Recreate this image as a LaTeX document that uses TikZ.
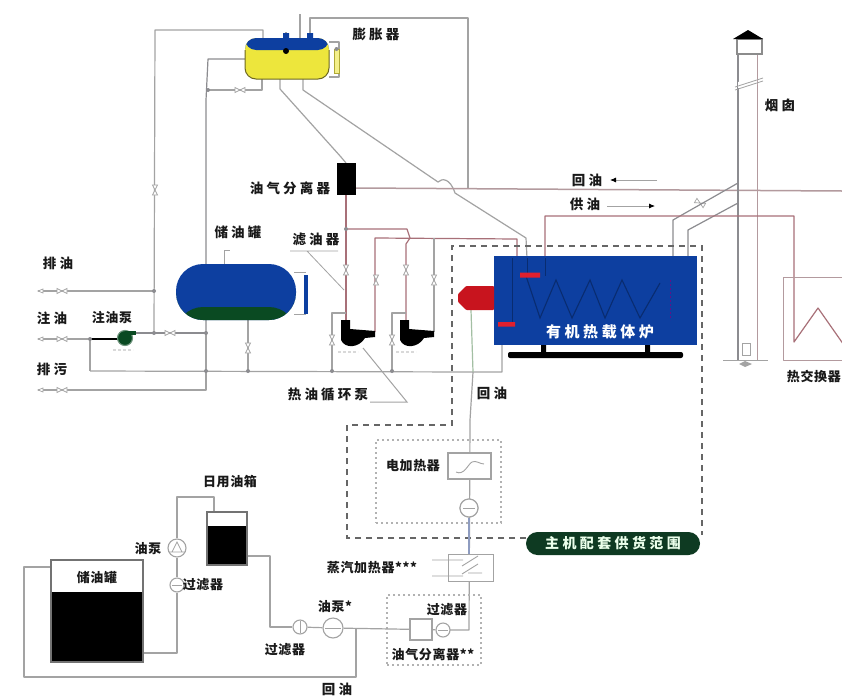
\documentclass[tikz,border=0pt]{standalone}
\usepackage{fontspec}
\setmainfont{Noto Sans CJK SC}
\newfontfamily\cjkw[LetterSpace=24]{Noto Sans CJK SC}
\newfontfamily\cjkn[LetterSpace=5]{Noto Sans CJK SC}
\usetikzlibrary{arrows.meta,calc}
\definecolor{tankblue}{HTML}{0D3FA0}
\definecolor{tankgreen}{HTML}{0A4A22}
\definecolor{tankyellow}{HTML}{EDE63C}
\definecolor{pipegray}{HTML}{A3A3A3}
\definecolor{pipedark}{HTML}{8C8C90}
\definecolor{piperose}{HTML}{B39A9E}
\definecolor{pipered}{HTML}{A87078}
\definecolor{badge}{HTML}{0E3A22}
\definecolor{burner}{HTML}{C8141E}
\definecolor{barred}{HTML}{E0202E}
\definecolor{pipegreen}{HTML}{A3BFA3}
\definecolor{pipeblue}{HTML}{8E9CC0}
\tikzset{
  pipe/.style={draw=pipegray,line width=1.2pt,line join=round},
  pipedk/.style={draw=pipedark,line width=1.2pt,line join=round},
  pipero/.style={draw=piperose,line width=1.5pt,line join=round},
  pipere/.style={draw=pipered,line width=1.2pt,line join=round},
  lw/.style={font=\cjkw\bfseries\fontsize{13.5}{15}\selectfont,text=black!90,inner sep=0pt},
  ln/.style={font=\cjkn\bfseries\fontsize{13}{15}\selectfont,text=black!90,inner sep=0pt},
  jdot/.style={circle,fill=pipedark,inner sep=0pt,minimum size=4pt},
  box/.style={draw=pipegray,line width=1.1pt,fill=white,inner sep=0pt},
  ring/.style={circle,draw=pipegray,line width=1.1pt,fill=white,inner sep=0pt},
  bigdash/.style={draw=black!60,line width=1.4pt,dash pattern=on 6pt off 5pt},
  smalldot/.style={draw=black!30,line width=1.2pt,dash pattern=on 2pt off 3pt},
  vlv/.pic={\draw[draw=pipegray,fill=white,line width=.7pt] (-5,-2.5)--(0,0)--(-5,2.5)--cycle (5,-2.5)--(0,0)--(5,2.5)--cycle;},
  hotpump/.pic={\fill[black] (-4,-14)--(5,-14)--(5,-5)--(30,-3)--(30,3)--(20,4)
     .. controls (14,14) and (0,15) .. (-4,6)--cycle;},
}
\begin{document}
\begin{tikzpicture}[x=1pt,y=-1pt]
\useasboundingbox (0,0) rectangle (842,696);
\clip (0,0) rectangle (842,696);
\fill[white] (0,0) rectangle (842,696);

% ---------- junctions and free ends
\coordinate (jPumpA) at (154,333);
\coordinate (jDrainOil) at (154,291);
\coordinate (jTankB) at (206,333);
\coordinate (jRetA) at (206,371);
\coordinate (jTankBot) at (248,371);
\coordinate (jP1by) at (332,371);
\coordinate (jP2by) at (392,371);
\coordinate (jInj) at (90,339);
\coordinate (jRetLeft) at (90,371);
\coordinate (jExp) at (208,90);
\coordinate (jRed) at (468,188);
\coordinate (jSep) at (346,229);
\coordinate (jFurn) at (473,372);
\coordinate (endDrainOil) at (38,291);
\coordinate (endInj) at (38,339);
\coordinate (endDirt) at (38,390);
\coordinate (endRedR) at (842,191);
\coordinate (p1in) at (346,320);
\coordinate (p1out) at (375,332);
\coordinate (p2in) at (406,320);
\coordinate (p2out) at (434,332);

% ---------- expansion tank pipes (behind tanks)
\draw[pipe] (263,38) -- (263,30) -- (155,30) -- (jPumpA);
\draw[pipedk] (245,59) -- (208,59) -- (206,100) -- (jTankB);
\draw[pipe] (jTankB) -- (206,390) -- (endDirt);
\draw[pipe] (jDrainOil) -- (endDrainOil);
\draw[pipe] (jExp) -- (262,90) -- (262,79);
\draw[pipe] (280,79) -- (280,89) -- (341,157) -- (346,163);
\draw[pipe] (303,79) -- (303,90) -- (438,182) .. controls (442,178) and (450,178) .. (455,193) -- (526,238) -- (527,258);
\draw[pipe] (310,38) -- (310,18) -- (468,18) -- (jRed);
\draw[pipe] (300,38) -- (300,14);
\draw[pipe] (286,38) -- (286,32);
\draw[pipe] (329,42) -- (339,42) -- (339,77) -- (329,77);

% ---------- rose main return line and separators
\draw[pipero] (356,188) -- (endRedR);
\draw[pipere] (346,195) -- (p1in);
\draw[pipere] (jSep) -- (407,229) -- (410,238) -- (406,244) -- (p2in);
\draw[pipere] (p1out) -- (375,238) -- (517,239) -- (517,258);
\draw[pipe] (p2out) -- (434,238);
\draw[pipe] (332,371) -- (332,313) -- (346,313);
\draw[pipe] (392,371) -- (392,313) -- (406,313);

% ---------- left lines
\draw[pipe] (jRetLeft) -- (jFurn) -- (502,372) -- (502,345);
\draw[pipe] (jInj) -- (jRetLeft);
\draw[pipe] (endInj) -- (jInj);
\draw[line width=1.6pt,black] (jInj) -- (120,339);
\draw[pipedk] (133,333) -- (jPumpA) -- (jTankB);
\draw[pipe] (jTankBot) -- (248,320);

% small valves
\foreach \px/\py/\ang in {155/190/90,62/291/0,62/339/0,62/390/0,170/333/0,248/348/90,332/340/90,392/340/90,
  376/280/90,434/280/90,346/270/90,406/270/90,240/90/0,700/203/-30}
  \pic[rotate=\ang] at (\px,\py) {vlv};
\foreach \px/\py in {40/291,40/339,40/390}
  \draw[pipegray,fill=white,line width=.7pt] (\px-2,\py) -- (\px+3,\py-2) -- (\px+3,\py+2) -- cycle;

% ---------- chimney and flue
\draw[pipedk] (738,54) -- (738,360);
\draw[pipero,line width=1pt] (757,54) -- (757,360);
\draw[pipegray,line width=1pt] (723,360) -- (768,360);
\fill[white] (738,82) -- (757,80) -- (757,85) -- (738,88) -- cycle;
\draw[pipegray,line width=.8pt] (735,87) -- (763,78) (735,90) -- (763,81);
\node[box,line width=.8pt,minimum width=8pt,minimum height=12pt] (clean) at (746,349) {};
\fill[pipegray] (739,364) -- (745,361) -- (752,364) -- (745,367) -- cycle;
\node[box,draw=black!45,minimum width=25pt,minimum height=15pt] (chimcap) at (749.5,46.5) {};
\fill[black] (733,39) -- (748,30) -- (763,39) -- cycle;
\draw[pipedk] (673,257) -- (673,220) -- (738,183);
\draw[pipedk] (688,257) -- (688,230) -- (738,203);

% ---------- supply line to heat exchanger
\draw[pipere] (545,258) -- (545,216) -- (794,216) -- (794,342) -- (818,308) -- (846,348);
\draw[pipero,line width=1pt] (842,277) -- (783,277) -- (783,360) -- (842,360);

% ---------- expansion tank
\node[fill=tankyellow,rounded corners=11pt,minimum width=84pt,minimum height=41pt,inner sep=0pt,
  path picture={\fill[tankblue] (path picture bounding box.north west) rectangle ([yshift=-12pt]path picture bounding box.north east);}] (exptank) at (287,58.5) {};
\draw[olive!70!black,line width=1pt,rounded corners=11pt] (245,50) -- (245,79) -- (329,79) -- (329,50);
\fill[tankblue] (283,33) rectangle (289,40) (307,33) rectangle (313,40);
\fill[black] (286,51) circle (3);
\node[draw=olive!70,fill=tankyellow!60,inner sep=0pt,minimum width=5pt,minimum height=24pt] (gauge) at (336.5,61) {};
\fill[pipedark] (336.5,49) circle (2);

% ---------- separator
\node[fill=black,inner sep=0pt,minimum width=19pt,minimum height=32pt] (oilsep) at (346.5,179) {};

% ---------- storage tank
\node[fill=tankblue,rounded corners=27pt,minimum width=120pt,minimum height=56pt,inner sep=0pt,
  path picture={\fill[tankgreen] ([yshift=13pt]path picture bounding box.south west) rectangle (path picture bounding box.south east);}] (tank) at (236,292) {};
\draw[pipegray,line width=.8pt] (224,264) -- (224,250) -- (230,250);
\draw[pipegray,line width=.8pt] (294,272) -- (306,272) (294,314) -- (306,314);
\fill[tankblue] (303.5,275) rectangle (308,314);

% ---------- pumps
\node[ring,draw=tankgreen!60,fill=tankgreen,minimum size=15pt] (injpump) at (125,338) {};
\fill[tankgreen] (125,331) rectangle (136,335);
\pic at (345,334) {hotpump};
\pic at (404,334) {hotpump};
\foreach \px/\py in {113/350,338/352,396/352}
  \draw[black!15,line width=2pt,dash pattern=on 3pt off 2pt] (\px,\py) -- (\px+20,\py);

% ---------- dots
\foreach \n/\px/\py in {d1/154/291,d2/154/333,d3/206/333,d4/206/371,d5/248/371,d6/332/371,d7/392/371,d8/90/339,d9/208/90,d10/346/229}
  \node[jdot] (\n) at (\px,\py) {};

% ---------- leaders
\draw[pipegray,line width=.8pt] (290,251) -- (338,251) (307,251) -- (344,290);
\draw[pipegray,line width=1pt] (370,402) -- (407,402) -- (363,348);

% ---------- furnace
\draw[draw=pipegreen,line width=1.2pt] (471,310) -- (jFurn);
\draw[pipe] (jFurn) -- (470,420);
\node[fill=tankblue,inner sep=0pt,minimum width=203pt,minimum height=89pt] (furnace) at (595.5,300.5) {};
\draw[black!30!tankblue,line width=1pt] (512,258) -- (512,325) (527,258) -- (527,276) (545,258) -- (545,276);
\draw[black!30!tankblue,line width=1.1pt] (526,276) -- (540,318) -- (556,280) -- (572,318) -- (590,280) -- (605,318) -- (622,280) -- (640,318) -- (660,283);
\draw[violet!70!tankblue,line width=.8pt,dash pattern=on 2pt off 2pt] (670,280) -- (670,320) ;
\fill[barred] (520,272.5) rectangle (540,277.5) (498,322) rectangle (515,326.5);
\node[font=\cjkw\bfseries\fontsize{15}{17}\selectfont,text=white,inner sep=0pt] (furnlab) at (600,332) {有机热载体炉};
\fill[black,rounded corners=2pt] (508,352) rectangle (683,358);
\fill[black] (541,345) rectangle (546,353) (645,345) rectangle (650,353);
\fill[burner,rounded corners=1pt] (494,286) -- (466,286) -- (458,294) -- (458,302) -- (466,310) -- (494,310) -- cycle;

% ---------- scope box
\draw[bigdash] (526,538) -- (347,538) -- (347,425) -- (452,425) -- (452,246) -- (702,246) -- (702,535);

% ---------- auxiliary heating train
\draw[pipe] (470,420) -- (469,630) -- (450,630);
\node[smalldot,minimum width=125pt,minimum height=83pt,inner sep=0pt] (elbox) at (438.5,481.5) {};
\node[box,minimum width=43pt,minimum height=26pt] (elheat) at (469.5,466) {};
\draw[pipegray,line width=.9pt] (456,472) .. controls (464,476) and (468,464) .. (472,462) .. controls (476,460) and (480,464) .. (484,464);
\node[ring,minimum size=18pt] (elpump) at (469,508) {};
\draw[pipegray,line width=.7pt] (463,508) -- (475,508);
\draw[draw=pipeblue,line width=1.2pt] (elpump) -- ($(elpump)+(0,46)$);
\node[ring,minimum size=18pt] at (elpump) {};
\draw[pipegray,line width=.7pt] (463,508) -- (475,508);
\node[box,line width=.9pt,minimum width=45pt,minimum height=27pt] (stheat) at (470.5,567.5) {};
\draw[pipegray,line width=.9pt] (432,560) -- (463,560) (432,576) -- (463,576) (462,566) -- (478,556) (462,574) -- (478,564) (468,573) -- (482,573);
\node[smalldot,minimum width=94pt,minimum height=70pt,inner sep=0pt] (sepbox) at (434,630) {};
\node[box,minimum width=22pt,minimum height=21pt] (gassep) at (421,629.5) {};
\node[ring,minimum size=14pt] (filtC) at (443,630) {};
\draw[pipegray,line width=.7pt] (438,630) -- (448,630);
\node[ring,minimum size=20pt] (pumpStar) at (333,628) {};
\node[ring,minimum size=14pt] (filtB) at (300,627) {};
\draw[pipegray,line width=.7pt] (300,621) -- (300,633);
\draw[pipegray,line width=.7pt] (325,628) -- (341,628);
\coordinate (jStar) at (356,628);
\coordinate (retCorner) at (24,677);
\draw[pipe] (gassep) -- (pumpStar);
\draw[pipe] (pumpStar) -- (filtB);
\draw[pipe] (filtC) -- (gassep);

% ---------- tanks bottom left
\node[draw=black!55,line width=1.2pt,fill=white,inner sep=0pt,minimum width=92pt,minimum height=102pt,
  path picture={\fill[black] ([yshift=70pt]path picture bounding box.south west) rectangle (path picture bounding box.south east);}] (mainT) at (97,611) {};
\node[draw=black!55,line width=1.2pt,fill=white,inner sep=0pt,minimum width=40pt,minimum height=53pt,
  path picture={\fill[black] ([yshift=39pt]path picture bounding box.south west) rectangle (path picture bounding box.south east);}] (dayT) at (227,538.5) {};
\node[ring,minimum size=18pt] (pumpL) at (177,548) {};
\draw[pipegray,line width=.7pt] (169,552) -- (185,552) (172,552) -- (177,542) -- (182,552);
\node[ring,minimum size=14pt] (filtL) at (177,585) {};
\draw[pipegray,line width=.7pt] (172,585) -- (182,585);
\draw[pipe] (filtB) -- (270,627) -- (270,556) -- (dayT.east |- 0,556);
\draw[pipe] (jStar) -- (356,677) -- (retCorner) -- (24,567) -- (mainT.west |- 0,567);
\draw[pipe] (mainT.east |- 0,653) -- (177,653) -- (filtL);
\draw[pipe] (filtL) -- (pumpL);
\draw[pipe] (pumpL) -- (177,497) -- (214,497) -- (dayT.north -| 214,0);

% ---------- badge
\node[fill=badge,rounded corners=11.5pt,minimum width=174pt,minimum height=23pt,inner sep=0pt,
  font=\cjkw\bfseries\fontsize{14}{16}\selectfont,text=white!92!green] (scopelab) at (613,543.5) {主机配套供货范围};

% ---------- arrows
\coordinate (backA) at (657,180); \coordinate (backB) at (610,180);
\coordinate (supA) at (607,206); \coordinate (supB) at (655,206);
\draw[pipegray,line width=.8pt,-{Latex[black,length=6pt,width=5pt]}] (backA) -- (backB);
\draw[pipegray,line width=.8pt,-{Latex[black,length=6pt,width=5pt]}] (supA) -- (supB);

% ---------- labels
\node[lw] (t1) at (376,34) {膨胀器};
\node[lw] (t2) at (780,105) {烟囱};
\node[lw] (t3) at (587,180) {回油};
\node[lw] (t4) at (585,204) {供油};
\node[lw] (t5) at (290,188) {油气分离器};
\node[lw] (t6) at (238,232) {储油罐};
\node[lw] (t7) at (316,239) {滤油器};
\node[lw] (t8) at (58,263) {排油};
\node[lw] (t9) at (52,318) {注油};
\node[ln] (t10) at (112,318) {注油泵};
\node[lw] (t11) at (52,369) {排污};
\node[lw] (t12) at (328,394) {热油循环泵};
\node[lw] (t13) at (492,393) {回油};
\node[ln,anchor=east] (t14) at (841,376) {热交换器};
\node[ln] (t15) at (413,466) {电加热器};
\node[ln] (t16) at (372,568) {蒸汽加热器***};
\node[ln] (t17) at (230,482) {日用油箱};
\node[ln] (t18) at (148,549) {油泵};
\node[ln] (t19) at (203,585) {过滤器};
\node[ln] (t20) at (97,578) {储油罐};
\node[ln] (t21) at (285,650) {过滤器};
\node[ln] (t22) at (335,607) {油泵*};
\node[ln] (t23) at (447,610) {过滤器};
\node[ln] (t24) at (433,654) {油气分离器**};
\node[lw] (t25) at (337,689) {回油};
\end{tikzpicture}
\end{document}
